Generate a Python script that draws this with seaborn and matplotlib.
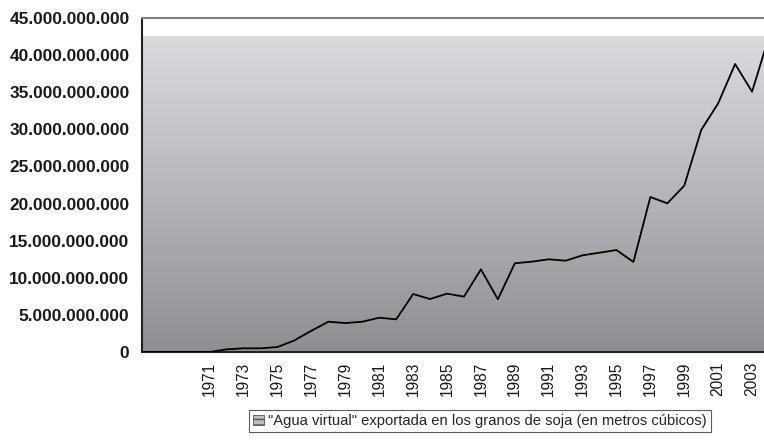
import matplotlib
matplotlib.use("Agg")
import matplotlib.pyplot as plt
import matplotlib.ticker as mticker
from matplotlib.colors import LinearSegmentedColormap
from matplotlib.patches import Patch
import numpy as np
import pandas as pd
import seaborn as sns

# data
years = list(range(1967, 2005))
water_m3 = [
    0, 0, 0, 0,                                  # 1967-1970
    0.00e9, 0.36e9, 0.50e9, 0.50e9, 0.67e9,      # 1971-1975
    1.57e9, 2.87e9, 4.08e9, 3.90e9, 4.08e9,      # 1976-1980
    4.62e9, 4.40e9, 7.81e9, 7.14e9, 7.86e9,      # 1981-1985
    7.46e9, 11.14e9, 7.10e9, 11.95e9, 12.17e9,   # 1986-1990
    12.49e9, 12.30e9, 13.03e9, 13.38e9, 13.74e9, # 1991-1995
    12.13e9, 20.88e9, 20.03e9, 22.41e9, 29.91e9, # 1996-2000
    33.50e9, 38.80e9, 35.07e9, 42.50e9,          # 2001-2004
]
label_years = list(range(1971, 2004, 2))
y_ticks = list(range(0, 45_000_000_001, 5_000_000_000))
legend_label = '"Agua virtual" exportada en los granos de soja (en metros cúbicos)'

df = pd.DataFrame({"year": years, "m3": water_m3})

sns.set_style("white")
plt.rcParams["font.family"] = ["Liberation Sans", "DejaVu Sans"]

W, H = 764, 448
fig = plt.figure(figsize=(W / 100, H / 100), dpi=100)
ax = fig.add_axes([142 / W, (H - 352) / H, (769 - 142) / W, (352 - 18) / H])

# gradient plot area background
cmap = LinearSegmentedColormap.from_list("bg", ["#8d8f93", "#b4b6b9", "#dadbde"])
grad = np.linspace(0, 1, 256).reshape(-1, 1)
ax.imshow(grad, cmap=cmap, origin="lower", aspect="auto",
          extent=[1967, 2004, 0, 42.5e9], zorder=0, interpolation="bilinear")

sns.lineplot(data=df, x="year", y="m3", color="black", linewidth=1.3, ax=ax, zorder=3)

ax.set_xlim(1967, 2004)
ax.set_ylim(0, 45e9)
ax.set_xlabel("")
ax.set_ylabel("")

ax.set_yticks(y_ticks)
ax.yaxis.set_major_formatter(mticker.FuncFormatter(lambda v, p: f"{v:,.0f}".replace(",", ".")))
ax.set_xticks(label_years)
ax.set_xticklabels([str(y) for y in label_years], rotation=90)
ax.set_xticks(years, minor=True)

ax.tick_params(axis="y", direction="out", length=5, width=1, color="#222222",
               labelsize=12.4, pad=4)
ax.tick_params(axis="x", which="both", direction="out", length=5, width=1,
               color="#222222", labelsize=11.2, pad=2)
for lab in ax.get_yticklabels():
    lab.set_fontweight("bold")
    lab.set_color("#1a1a1a")
for lab in ax.get_xticklabels():
    lab.set_color("#1a1a1a")

for side in ["left", "bottom"]:
    ax.spines[side].set_color("#222222")
    ax.spines[side].set_linewidth(1.5)
ax.spines["top"].set_color("#808080")
ax.spines["top"].set_linewidth(1.5)
ax.spines["right"].set_visible(False)

handle = Patch(facecolor="#bdbdbd", edgecolor="#555555", hatch="---", linewidth=0.6)
leg = fig.legend([handle], [legend_label], loc="center",
                 bbox_to_anchor=(480 / W, 1 - 421 / H), frameon=True,
                 fontsize=10.6, handlelength=0.7, handleheight=0.7,
                 handletextpad=0.3, borderpad=0.3, fancybox=False)
leg.get_frame().set_edgecolor("#333333")
leg.get_frame().set_linewidth(0.8)

fig.savefig("out.png", dpi=100)
